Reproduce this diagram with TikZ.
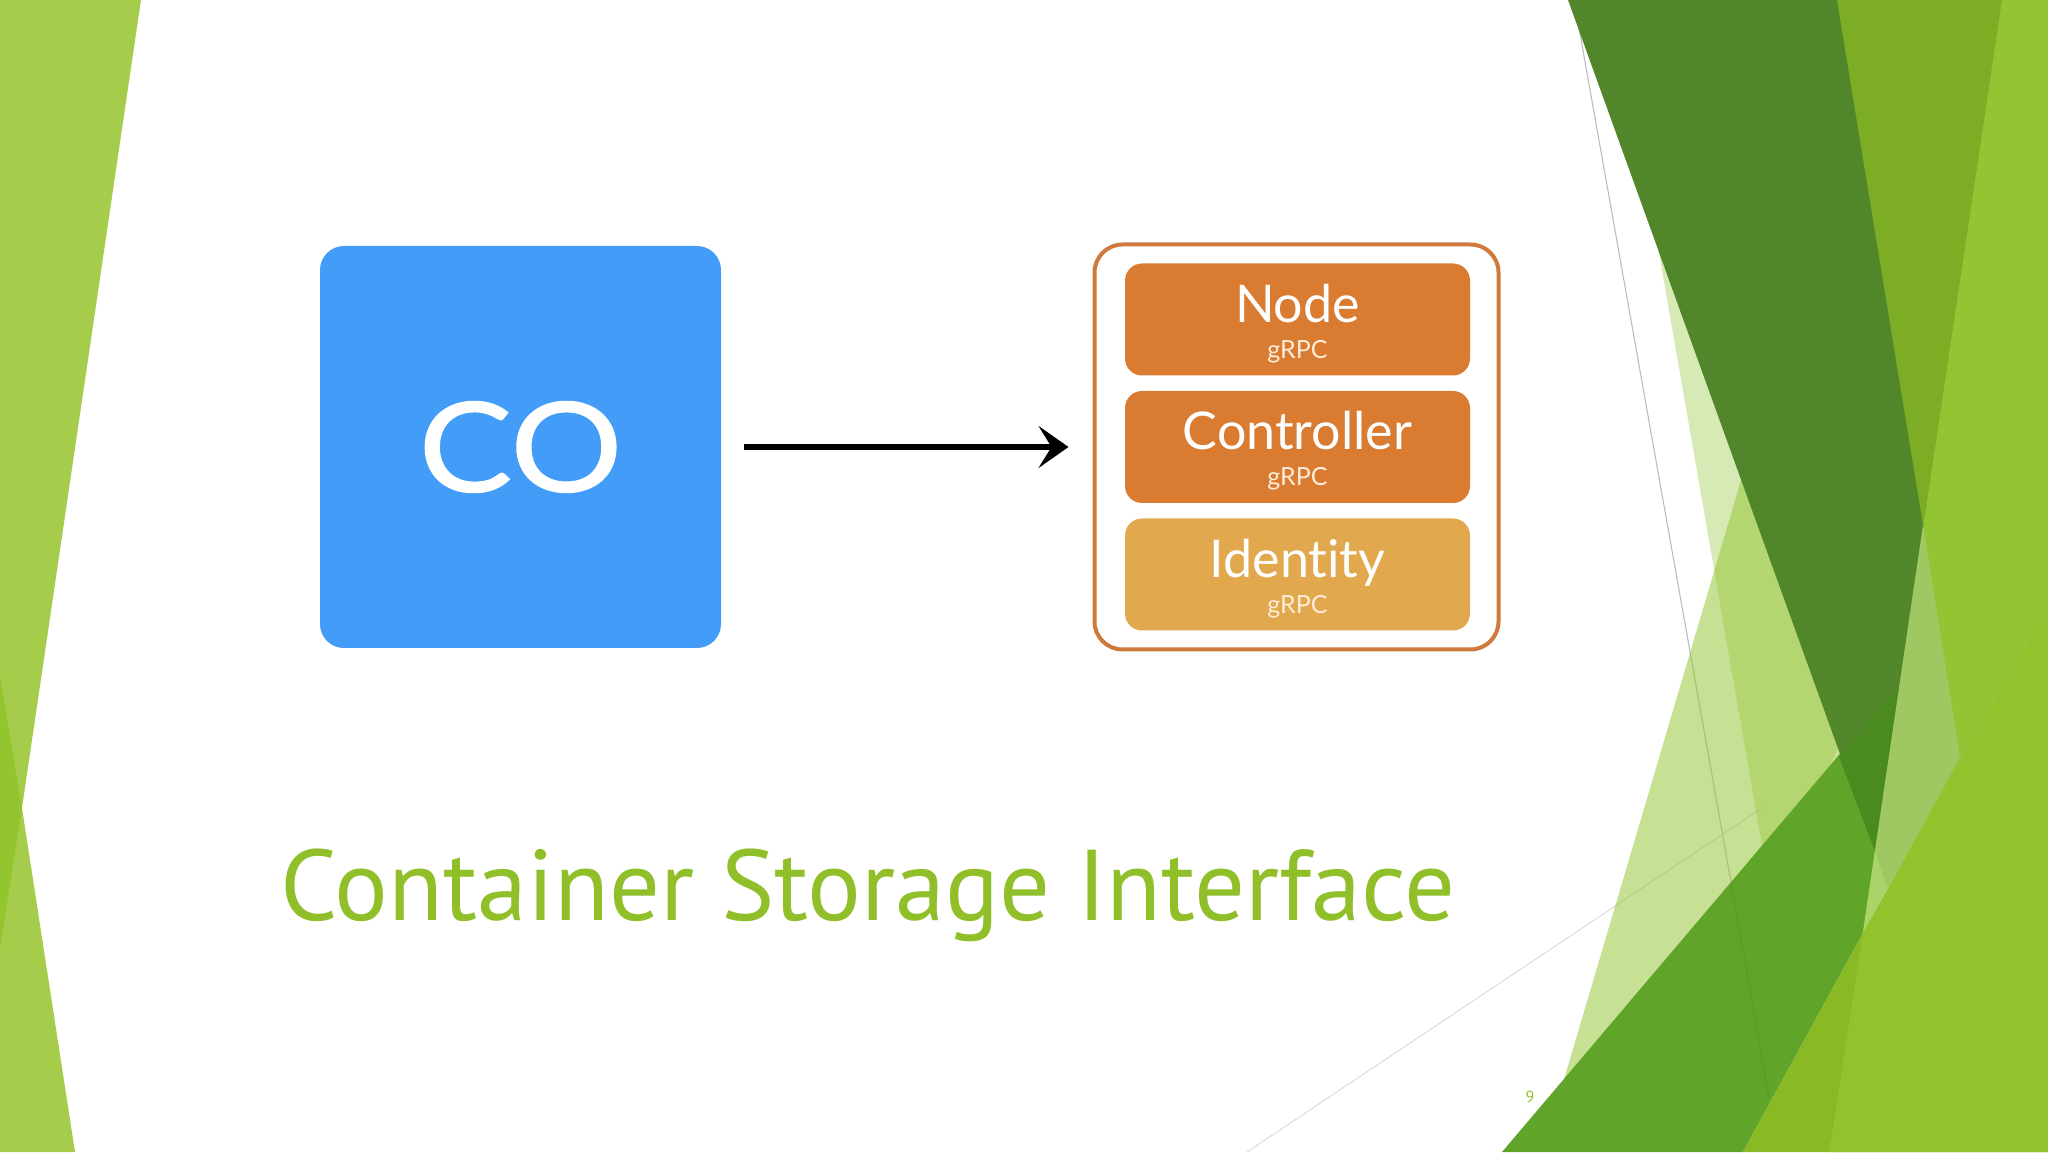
\documentclass[tikz,border=0pt]{standalone}
\usepackage{fontspec}
\setmainfont[Ligatures=NoCommon]{Lato}
\newfontfamily\titlefont[Ligatures=NoCommon]{PT Sans}
\usepackage{tikz}
\usetikzlibrary{positioning,arrows.meta}
\definecolor{coblue}{HTML}{439CF8}
\definecolor{rustorange}{HTML}{D97B31}
\definecolor{sandorange}{HTML}{E2A84E}
\definecolor{frameorange}{HTML}{D0793C}
\definecolor{titlegreen}{HTML}{90BF2A}
\definecolor{leafgreen}{HTML}{93C434}
\definecolor{sidegreen}{HTML}{A5CC4A}
\definecolor{sidedark}{HTML}{93C52E}
\definecolor{topgreen}{HTML}{7DAD25}
\definecolor{pinegreen}{HTML}{52862A}
\definecolor{pinedeep}{HTML}{4A8A1E}
\definecolor{bandgreen}{HTML}{60A42A}
\definecolor{floorgreen}{HTML}{89B925}
\definecolor{floorlight}{HTML}{92C22C}
\definecolor{palegreen}{HTML}{9FC862}
\definecolor{palergreen}{HTML}{A8D469}
\definecolor{gridgray}{HTML}{BDBDBD}
\tikzstyle{coblock} = [rectangle, rounded corners=24pt, minimum width=401pt, minimum height=402pt, fill=coblue, text=white, font=\fontsize{140}{140}\selectfont\addfontfeature{FakeBold=1}]
\tikzstyle{frame} = [rectangle, rounded corners=28pt, minimum width=404pt, minimum height=405pt, draw=frameorange, line width=4pt]
\tikzstyle{squared} = [rectangle, rounded corners=17pt, minimum width=345pt, minimum height=112pt, text centered, align=center, text=white, inner sep=0pt]
\tikzstyle{connect} = [line width=5.5pt, black, -{Stealth[length=30pt,width=42pt,inset=13pt]}, shorten <=23pt, shorten >=24pt]
\newcommand{\servicetext}[1]{{\fontsize{52}{52}\selectfont\rule[-13pt]{0pt}{59pt}#1}\\[4pt]{\fontsize{25}{25}\selectfont\color{white!85!orange} gRPC}}
\begin{document}
\begin{tikzpicture}[x=1pt, y=1pt, node distance=127.5pt]
			
			\useasboundingbox (0,0) rectangle (2048,1152);
			
			\begin{scope}[y=-1pt, yshift=1152pt]
				\fill[sidegreen] (0,0) -- (141,0) -- (22,808) -- (75,1152) -- (0,1152) -- cycle;
				\fill[sidedark] (0,676) -- (22,808) -- (0,948) -- cycle;
				\draw[gridgray, line width=1.1pt] (1574,0) -- (1731,882);
				\draw[gridgray!70, line width=0.7pt] (1247,1152) -- (1762,808);
				\fill[leafgreen, opacity=0.37] (1655,230) -- (1762,845) -- (1800,830) -- (1860,700) -- (1700,230) -- cycle;
				\fill[leafgreen, opacity=0.53] (1760,416) -- (1880,720) -- (1620,1100) -- (1560,1093) -- cycle;
				\fill[bandgreen] (1502,1152) -- (1900,683) -- (1863,933) -- (1743,1152) -- cycle;
				\draw[black, opacity=0.06, line width=0.8pt] (1731,882) -- (1769,1098);
				\fill[pinegreen] (1568,0) -- (1841,0) -- (1926,525) -- (1878,851) -- (1875,851) -- cycle;
				\fill[pinedeep] (1839,757) -- (1902,683) -- (1878,851) -- (1875,851) -- cycle;
				\fill[topgreen] (1837,0) -- (2006,0) -- (1926,525) -- (1923,525) -- cycle;
				\fill[leafgreen] (2002,0) -- (2048,0) -- (2048,1152) -- (1830,1152) -- cycle;
				\fill[palegreen] (1923,525) -- (1960,757) -- (1888,889) -- (1875,851) -- cycle;
				\fill[palergreen] (1875,851) -- (1888,889) -- (1863,933) -- cycle;
				\fill[floorgreen] (1863,933) -- (1830,1152) -- (1743,1152) -- cycle;
				\fill[floorlight] (2048,610) -- (2048,1152) -- (1830,1152) -- (1863,933) -- cycle;
			\end{scope}
			
			\node (co) [coblock] at (520.5,705) {\scalebox{1}[0.89]{CO}};
			\node (plugin) [frame, right of=co, xshift=648.5pt] {};
			\node (controller) [squared, fill=rustorange, at=(plugin), xshift=1pt] {\servicetext{Controller}};
			\node (nodeservice) [squared, fill=rustorange, above of=controller] {\servicetext{Node}};
			\node (identity) [squared, fill=sandorange, below of=controller] {\servicetext{Identity}};
			\node (title) [text=titlegreen, font=\titlefont\fontsize{100.5}{100.5}\selectfont] at (868,257) {Container Storage Interface};
			\node (pagenum) [text=titlegreen, font=\titlefont\fontsize{16}{16}\selectfont] at (1530,55) {9};
			
			\draw[connect] (co.east) -- (plugin.west);
			
	\end{tikzpicture}
\end{document}
